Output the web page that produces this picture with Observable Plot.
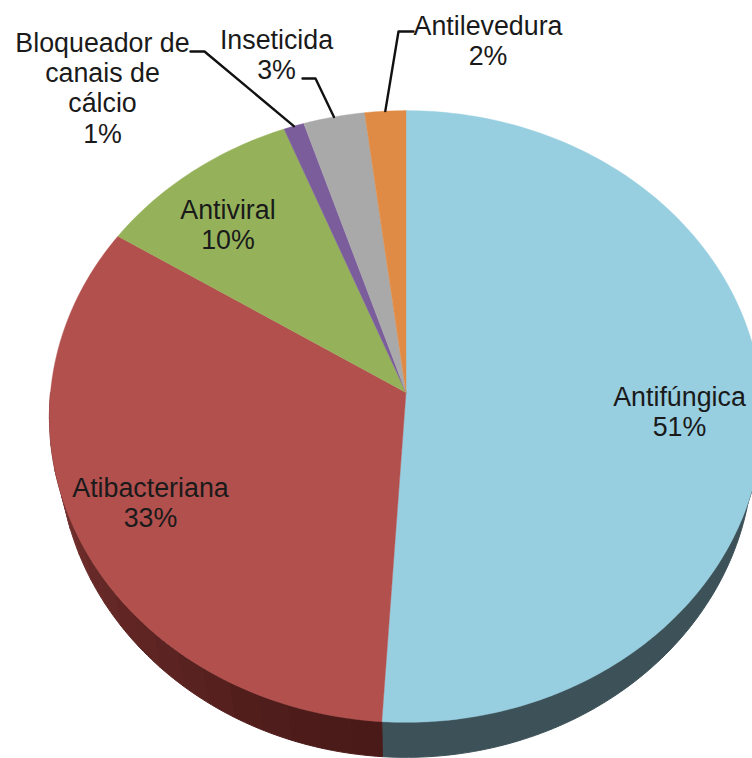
<!DOCTYPE html>
<html lang="pt">
<head>
<meta charset="utf-8">
<title>Pie chart</title>
<script src="https://cdn.jsdelivr.net/npm/d3@7"></script>
<script src="https://cdn.jsdelivr.net/npm/@observablehq/plot@0.6"></script>
<style>
html,body{margin:0;padding:0;background:#fff;}
svg{display:block;}
</style>
</head>
<body>
<div id="chart"></div>
<script>
// Data, clockwise from 12 o'clock
const categories = ["Antifúngica", "Atibacteriana", "Antiviral", "Bloqueador de canais de cálcio", "Inseticida", "Antilevedura"];
const shares = [51, 33, 10, 1, 3, 2];
const labelLines = ["Antifúngica\n51%", "Atibacteriana\n33%", "Antiviral\n10%", "Bloqueador de\ncanais de\ncálcio\n1%", "Inseticida\n3%", "Antilevedura\n2%"];

// Styles
const sliceColors = ["#97cee0", "#b2504e", "#95b25a", "#7b5d9c", "#a9a9a9", "#e08b45"];
const wallShades = {
  0: ["#3d5158"],
  1: ["#4a1a18", "#4b1b19", "#4d1c1a", "#4f1d1b", "#521e1c", "#55201e", "#582220", "#5b2321", "#5e2523", "#612624", "#642826", "#672927", "#6b2b29", "#6f2e2c", "#743230", "#7a3634", "#823c3a", "#8c4341"]
};

// Layout (pixels on the page)
const W = 752, H = 758;
const apex = {x: 405.5, y: 392};
const radiusX = 355.5, radiusY = 304, tilt = 0.0784, depth = 35, lowerRimScale = 0.973;
const labelAt = [[679, 411], [150, 502], [227.5, 223.5], [102, 87], [276, 54], [487.5, 40]];
const leaderElbows = {
  3: [[190, 51], [204, 51]],
  4: [[302, 78], [315, 78]],
  5: [[413, 31], [398, 31]]
};

// Angle fraction (0..1 clockwise from top) -> point on the tilted disc (upper or lower rim)
const rim = (f, lower = false) => {
  const t = f * 2 * Math.PI, X = Math.sin(t), Y = Math.cos(t), w = 1 + tilt * Y;
  const s = lower ? lowerRimScale : 1;
  return {x: apex.x + s * radiusX * X / w, y: apex.y - radiusY * Y / w + (lower ? depth : 0)};
};
const total = d3.sum(shares);
const stops = d3.cumsum(shares).map(v => v / total);
const starts = [0, ...stops.slice(0, -1)];
const arcFractions = (a, b) => {
  const n = Math.max(2, Math.ceil((b - a) * 360));
  return d3.range(n + 1).map(i => a + (b - a) * i / n);
};

const tops = categories.flatMap((c, i) => [
  {id: c, color: sliceColors[i], ...apex},
  ...arcFractions(starts[i], stops[i]).map(f => ({id: c, color: sliceColors[i], ...rim(f)})),
  {id: c, color: sliceColors[i], ...apex}
]);

const wallRanges = {0: [0.25, stops[0]], 1: [stops[0], 0.75]};
const walls = Object.entries(wallRanges).flatMap(([k, [a, b]]) => {
  const shades = wallShades[k];
  return shades.flatMap((color, j) => {
    const s = a + (b - a) * j / shades.length, e = a + (b - a) * (j + 1) / shades.length;
    const fs = arcFractions(s, e);
    const id = `w${k}-${j}`;
    return [
      ...fs.map(f => ({id, color, ...rim(f)})),
      ...fs.slice().reverse().map(f => ({id, color, ...rim(f, true)})),
      {id, color, ...rim(fs[0])}
    ];
  });
});

const leaders = Object.entries(leaderElbows).flatMap(([k, pts]) => {
  const i = +k;
  return [
    ...pts.map(([x, y]) => ({id: k, x, y})),
    {id: k, ...rim((starts[i] + stops[i]) / 2)}
  ];
});

const labels = categories.map((c, i) => ({text: labelLines[i], x: labelAt[i][0], y: labelAt[i][1]}));

const chart = Plot.plot({
  width: W, height: H,
  margin: 0,
  x: {domain: [0, W], range: [0, W], axis: null},
  y: {domain: [0, H], range: [0, H], axis: null},
  color: {type: "identity"},
  style: {background: "#fff"},
  marks: [
    Plot.line(walls, {x: "x", y: "y", z: "id", fill: "color", stroke: "color", strokeWidth: 1}),
    Plot.line(tops, {x: "x", y: "y", z: "id", fill: "color", stroke: "color", strokeWidth: 0.4}),
    Plot.line(leaders, {x: "x", y: "y", z: "id", stroke: "#111", strokeWidth: 2.4}),
    Plot.text(labels, {
      x: "x", y: "y", text: "text", fill: "#1a1a1a",
      fontFamily: "'Liberation Sans', Arial, sans-serif", fontSize: 26.8, lineHeight: 1.13, textAnchor: "middle"
    })
  ]
});
document.getElementById("chart").append(chart);
</script>
</body>
</html>
